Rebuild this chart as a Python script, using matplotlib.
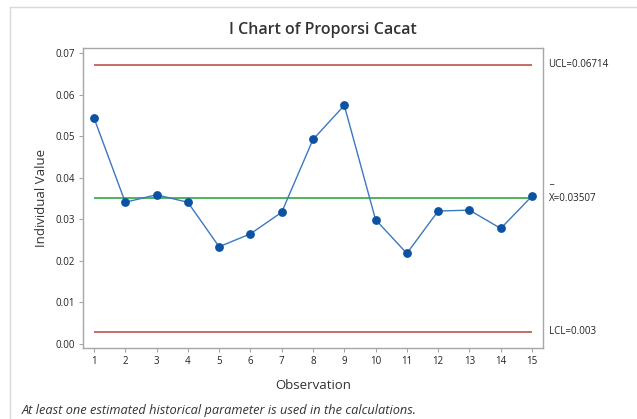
import matplotlib
matplotlib.use("Agg")
import matplotlib.pyplot as plt

observations = list(range(1, 16))
proporsi = [0.0544, 0.0341, 0.0359, 0.0341, 0.0234, 0.0265, 0.0317, 0.0492,
            0.0574, 0.0299, 0.0218, 0.0320, 0.0322, 0.0278, 0.0356]
ucl = 0.06714
center = 0.03507
lcl = 0.003
yticks = [0.00, 0.01, 0.02, 0.03, 0.04, 0.05, 0.06, 0.07]

plt.rcParams['font.family'] = ['Open Sans', 'DejaVu Sans']

fig = plt.figure(figsize=(6.37, 4.19), dpi=100)
W, H = 637, 419
ax = fig.add_axes([83 / W, 1 - 348 / H, (543 - 83) / W, (348 - 48) / H])

# outer frame (top and left visible)
fig.add_artist(plt.Line2D([10 / W, 10 / W], [0, 1 - 7 / H], transform=fig.transFigure,
                          color='#d9d9d9', lw=1))
fig.add_artist(plt.Line2D([10 / W, 1], [1 - 7 / H, 1 - 7 / H], transform=fig.transFigure,
                          color='#d9d9d9', lw=1))

ax.hlines([ucl, lcl], observations[0], observations[-1], color='#b5453d', lw=1.1, zorder=2)
ax.hlines(center, observations[0], observations[-1], color='#1f9e34', lw=1.1, zorder=2)
ax.plot(observations, proporsi, color='#3b78c0', lw=1.0, zorder=3)
ax.plot(observations, proporsi, 'o', color='#0b52a2', ms=5.3, zorder=4)

ax.set_xlim(0.65, 15.35)
ax.set_ylim(-0.00095, 0.0712)
ax.set_xticks(observations)
ax.set_yticks(yticks)
ax.set_yticklabels([f"{v:.2f}" for v in yticks])

for s in ax.spines.values():
    s.set_color('#a6a6a6')
    s.set_linewidth(1.0)
ax.tick_params(axis='both', labelsize=7, colors='#a6a6a6', labelcolor='#222222',
               length=3, width=0.8, pad=2.5)

ax.set_xlabel('Observation', fontsize=9.5, color='#333333', labelpad=9)
ax.set_ylabel('Individual Value', fontsize=9.5, color='#333333', labelpad=6)
fig.text(323 / W, 1 - 30 / H, 'I Chart of Proporsi Cacat', fontsize=11.5, color='#333333',
         fontweight='semibold', ha='center', va='center')

tr = ax.get_yaxis_transform()
fs = 7
ax.text(1.012, ucl, 'UCL=0.06714', transform=tr, fontsize=fs, color='#222222',
        va='center', ha='left')
ax.text(1.012, lcl, 'LCL=0.003', transform=tr, fontsize=fs, color='#222222',
        va='center', ha='left')
ax.text(1.012, center - 0.0001, 'X=0.03507', transform=tr, fontsize=fs, color='#222222',
        va='center', ha='left')
ax.text(1.012, center + 0.0043, '_', transform=tr, fontsize=fs, color='#222222',
        va='center', ha='left')

fig.text(22 / W, 1 - 410 / H, 'At least one estimated historical parameter is used in the calculations.',
         fontsize=9.2, style='italic', color='#333333', va='center', ha='left')

fig.savefig('out.png', dpi=100, facecolor='white')
